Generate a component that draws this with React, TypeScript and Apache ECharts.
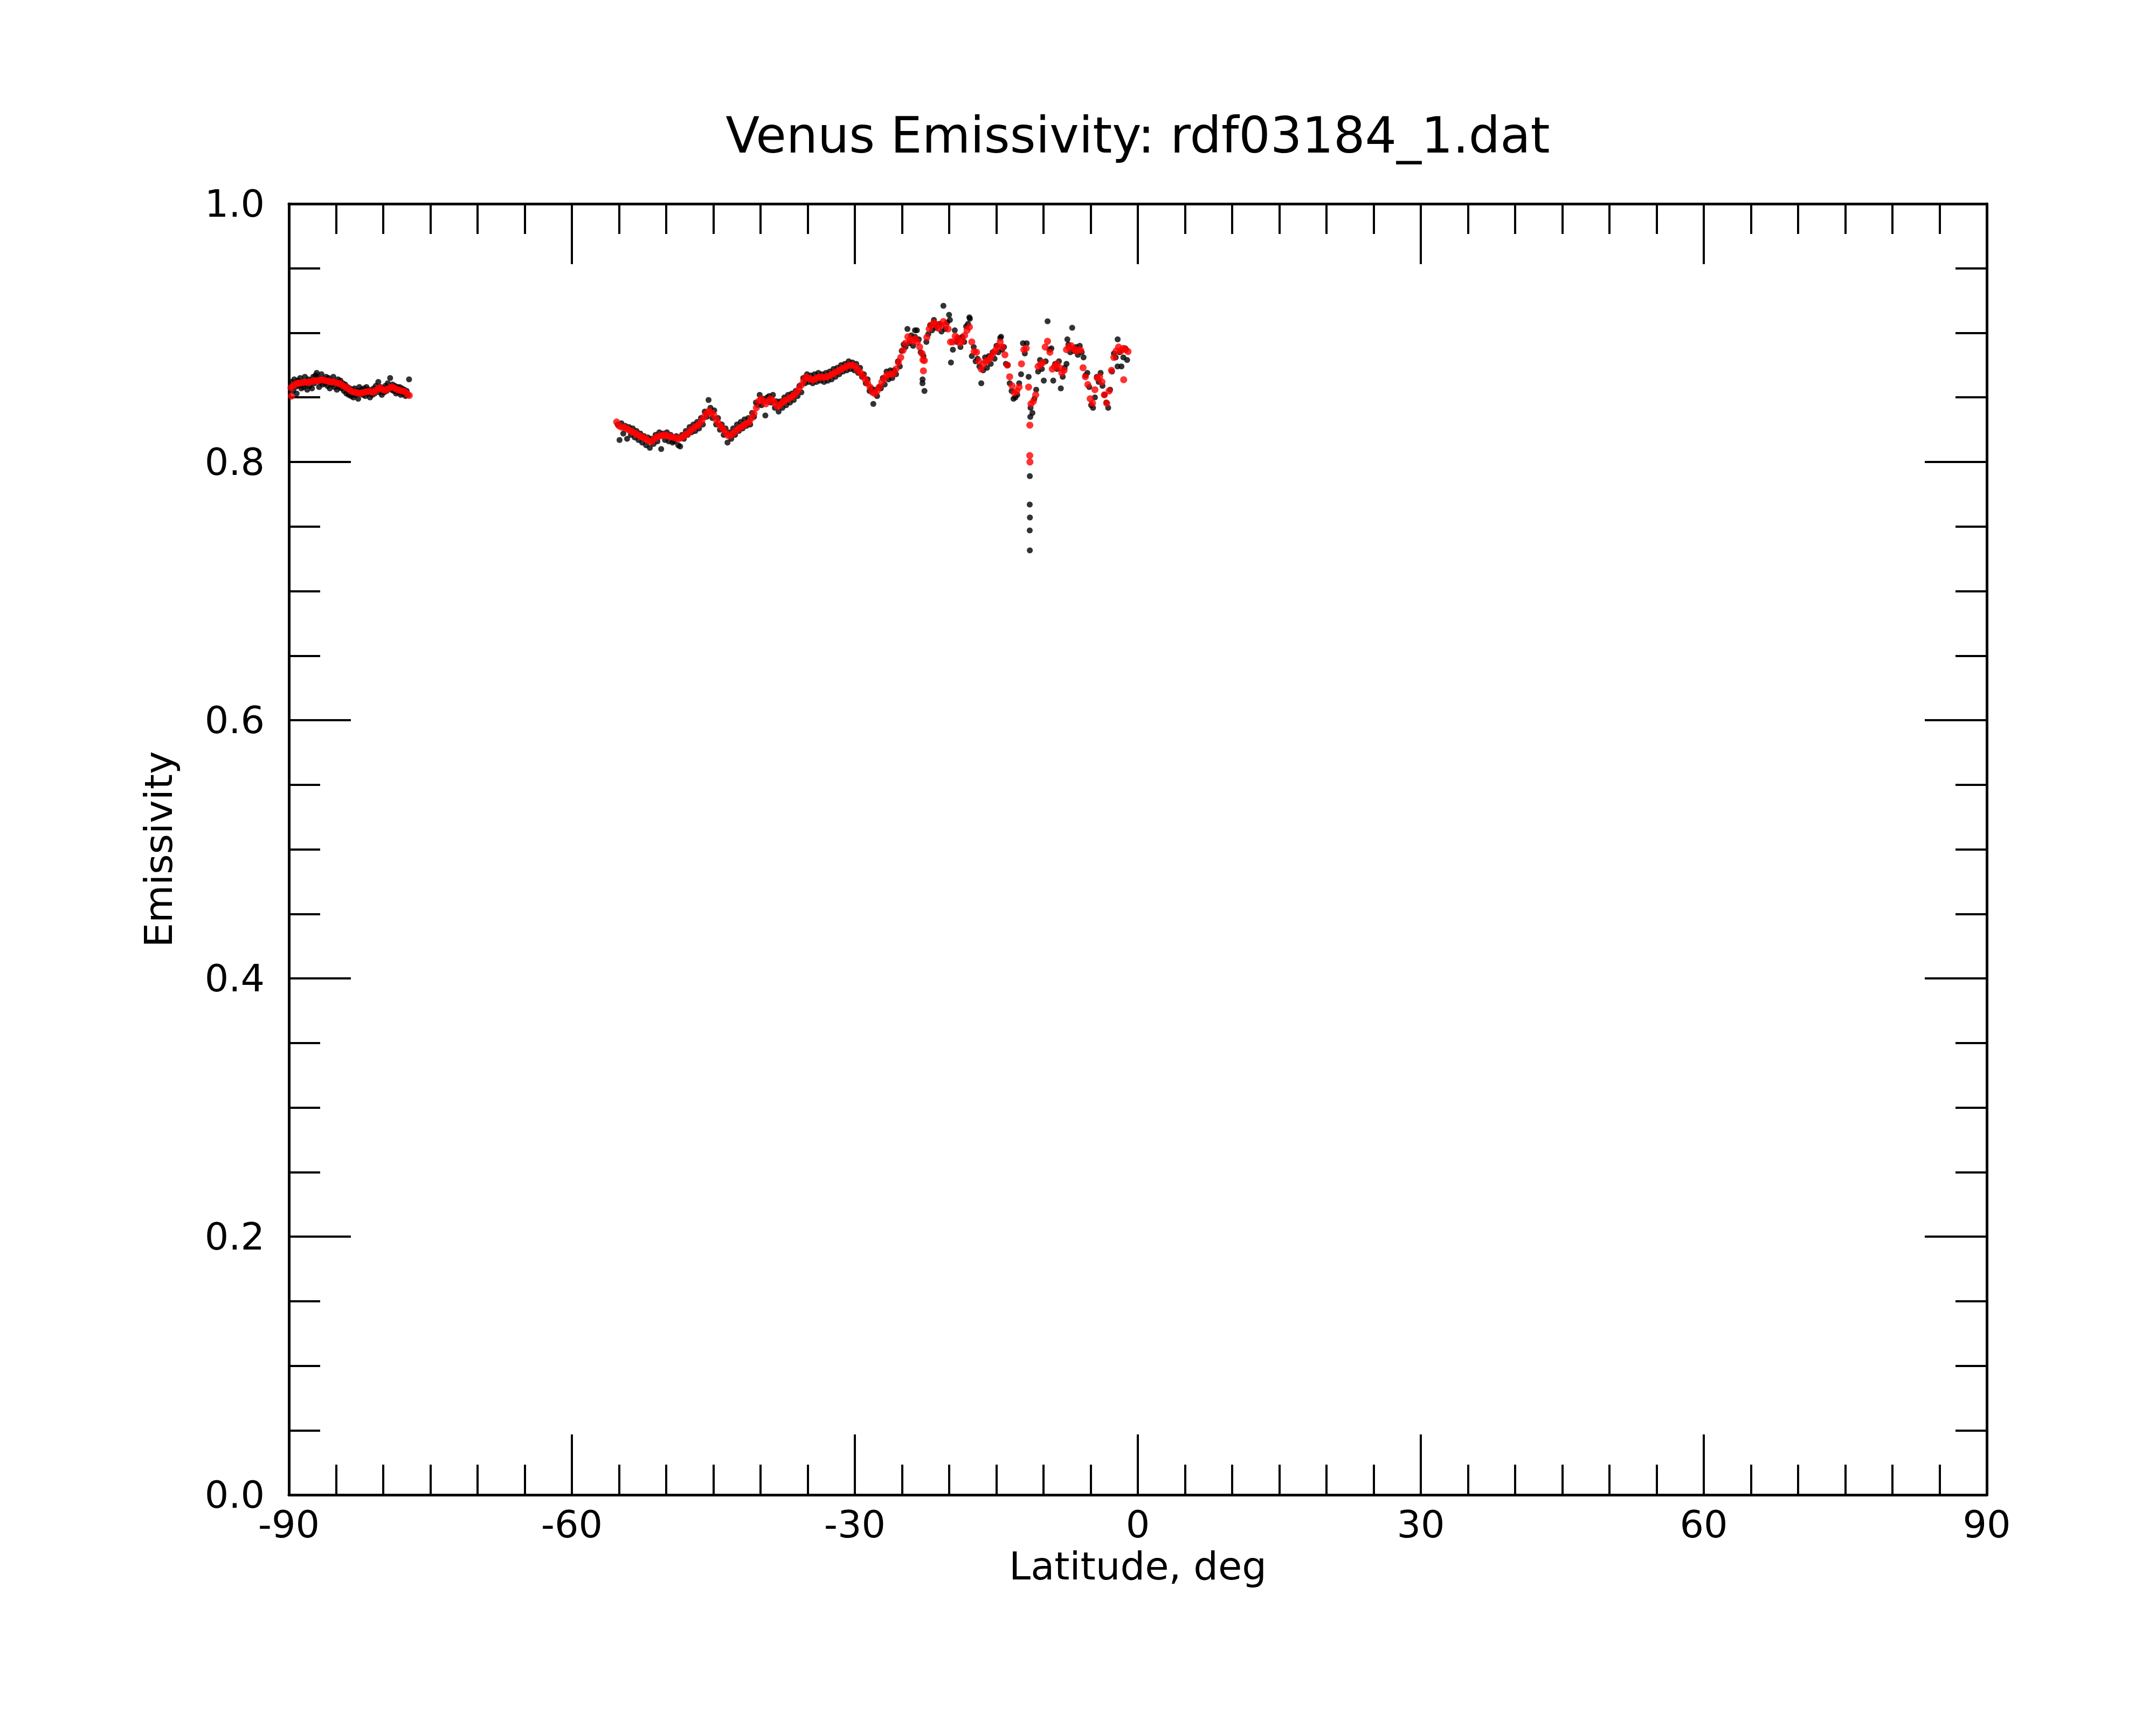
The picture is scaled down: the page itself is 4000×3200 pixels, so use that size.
import React, { useEffect, useRef } from "react";
import * as echarts from "echarts";

// ---------- data ----------
const titleText = "Venus Emissivity: rdf03184_1.dat";
const xAxisTitle = "Latitude, deg";
const yAxisTitle = "Emissivity";

// Southern polar strip, raw samples (black)
const seg1BlackStart = -89.685;
const seg1BlackStep = 0.1255;
const seg1Black = [
  0.862, 0.855, 0.864, 0.858, 0.853, 0.863, 0.859, 0.865, 0.857, 0.862,
  0.858, 0.866, 0.860, 0.856, 0.864, 0.859, 0.863, 0.857, 0.866, 0.861,
  0.867, 0.869, 0.865, 0.858, 0.862, 0.868, 0.860, 0.864, 0.861, 0.866,
  0.859, 0.865, 0.857, 0.863, 0.860, 0.866, 0.858, 0.862, 0.856, 0.864,
  0.858, 0.863, 0.857, 0.861, 0.855, 0.860, 0.853, 0.858, 0.852, 0.857,
  0.851, 0.856, 0.850, 0.857, 0.852, 0.855, 0.849, 0.858, 0.853, 0.856,
  0.852, 0.857, 0.851, 0.858, 0.853, 0.856, 0.850, 0.855, 0.852, 0.857,
  0.853, 0.859, 0.856, 0.862, 0.854, 0.858, 0.852, 0.857, 0.854, 0.859,
  0.855, 0.861, 0.857, 0.865, 0.856, 0.860, 0.855, 0.859, 0.853, 0.858,
  0.854, 0.858, 0.852, 0.857, 0.853, 0.856, 0.851, 0.855, 0.852, 0.864,
];

// Southern polar strip, smoothed (red)
const seg1RedStart = -89.785;
const seg1RedStep = 0.251;
const seg1Red = [
  0.8575, 0.859, 0.8605, 0.861, 0.8612, 0.8615, 0.862, 0.8615, 0.862, 0.8625,
  0.863, 0.8628, 0.8633, 0.8637, 0.8633, 0.8628, 0.8625, 0.8622, 0.862, 0.8615,
  0.861, 0.8605, 0.859, 0.858, 0.857, 0.8555, 0.8545, 0.854, 0.8535, 0.8533,
  0.8535, 0.854, 0.8545, 0.8547, 0.8543, 0.854, 0.8555, 0.8573, 0.857, 0.8558,
  0.8556, 0.8565, 0.8578, 0.858, 0.857, 0.856, 0.8555, 0.855, 0.8547, 0.853,
  0.8515,
];

// Main strip, raw samples (black)
const seg2BlackStart = -55.15;
const seg2BlackStep = 0.2008;
const seg2Black = [
  0.829, 0.817, 0.830, 0.822, 0.828, 0.818, 0.827, 0.821, 0.826, 0.819,
  0.824, 0.817, 0.822, 0.815, 0.820, 0.813, 0.819, 0.811, 0.818, 0.814,
  0.821, 0.816, 0.823, 0.810, 0.822, 0.817, 0.823, 0.816, 0.821, 0.815,
  0.816, 0.820, 0.813, 0.812, 0.821, 0.818, 0.824, 0.821, 0.827, 0.823,
  0.829, 0.824, 0.831, 0.826, 0.834, 0.829, 0.839, 0.835, 0.848, 0.842,
  0.834, 0.840, 0.829, 0.834, 0.825, 0.829, 0.821, 0.826, 0.815, 0.823,
  0.818, 0.826, 0.821, 0.829, 0.824, 0.831, 0.826, 0.833, 0.828, 0.834,
  0.829, 0.838, 0.835, 0.846, 0.844, 0.852, 0.844, 0.849, 0.836, 0.850,
  0.851, 0.846, 0.852, 0.842, 0.847, 0.839, 0.847, 0.842, 0.850, 0.844,
  0.852, 0.846, 0.853, 0.848, 0.855, 0.851, 0.859, 0.854, 0.865, 0.861,
  0.868, 0.862, 0.867, 0.861, 0.868, 0.862, 0.869, 0.863, 0.868, 0.862,
  0.869, 0.863, 0.870, 0.864, 0.872, 0.866, 0.873, 0.868, 0.875, 0.870,
  0.876, 0.871, 0.878, 0.872, 0.877, 0.871, 0.876, 0.869, 0.873, 0.866,
  0.868, 0.861, 0.864, 0.855, 0.857, 0.845, 0.856, 0.851, 0.858, 0.857,
  0.865, 0.860, 0.870, 0.864, 0.871, 0.865, 0.871, 0.868, 0.878, 0.874,
  0.886, 0.891, 0.889, 0.903, 0.892, 0.898, 0.890, 0.897, 0.902, 0.895,
  0.885, 0.864, 0.855, 0.893, 0.899, 0.906, 0.902, 0.910, 0.904, 0.906,
  0.907, 0.901, 0.921, 0.903, 0.908, 0.914, 0.877, 0.887, 0.902, 0.893,
  0.896, 0.889, 0.897, 0.893, 0.905, 0.907, 0.911, 0.882, 0.889, 0.878,
  0.880, 0.874, 0.861, 0.871, 0.881, 0.873, 0.882, 0.876, 0.885, 0.880,
  0.890, 0.885, 0.896, 0.887, 0.889, 0.876, 0.875, 0.861, 0.855, 0.849,
  0.850, 0.852, 0.861, 0.868, 0.892, 0.884, 0.892, 0.866, 0.842, 0.838,
  0.849, 0.856, 0.870, 0.879, 0.872, 0.863, 0.878, 0.909, 0.887, 0.888,
  0.863, 0.876, 0.872, 0.878, 0.857, 0.866, 0.873, 0.876, 0.891, 0.885,
  0.904, 0.886, 0.889, 0.883, 0.890, 0.885, 0.881, 0.867, 0.869, 0.858,
  0.844, 0.842, 0.850, 0.866, 0.862, 0.869, 0.859, 0.852, 0.846, 0.842,
  0.856, 0.870, 0.884, 0.881, 0.895, 0.885, 0.874, 0.881, 0.888, 0.879,
];

// Main strip, smoothed (red)
const seg2RedStart = -55.254;
const seg2RedStep = 0.251;
const seg2Red = [
  0.831, 0.828, 0.827, 0.827, 0.826, 0.825, 0.824, 0.823, 0.822, 0.821,
  0.820, 0.819, 0.8185, 0.817, 0.816, 0.816, 0.818, 0.8195, 0.820, 0.8205,
  0.821, 0.8205, 0.820, 0.8195, 0.819, 0.8185, 0.818, 0.8185, 0.8195, 0.821,
  0.822, 0.824, 0.8255, 0.827, 0.828, 0.8295, 0.832, 0.835, 0.8375, 0.8395,
  0.838, 0.8365, 0.833, 0.830, 0.8275, 0.8255, 0.823, 0.8205, 0.8205, 0.822,
  0.8235, 0.825, 0.8265, 0.8275, 0.829, 0.830, 0.831, 0.834, 0.8375, 0.842,
  0.847, 0.849, 0.847, 0.845, 0.847, 0.849, 0.8475, 0.845, 0.843, 0.8445,
  0.846, 0.8475, 0.8485, 0.8495, 0.8505, 0.852, 0.854, 0.8565, 0.8595, 0.863,
  0.866, 0.865, 0.864, 0.8635, 0.8645, 0.8655, 0.866, 0.8655, 0.8658, 0.866,
  0.867, 0.868, 0.869, 0.870, 0.871, 0.872, 0.873, 0.874, 0.8748, 0.875,
  0.8748, 0.8735, 0.871, 0.869, 0.8665, 0.864, 0.861, 0.858, 0.854, 0.853,
  0.855, 0.858, 0.862, 0.8645, 0.867, 0.868, 0.868, 0.8685, 0.872, 0.877,
  0.881, 0.8865, 0.892, 0.897, 0.8945, 0.8935, 0.8955, 0.893, 0.889, 0.884,
  0.8785, 0.8965, 0.903, 0.906, 0.908, 0.9065, 0.9035, 0.906, 0.9088, 0.906,
  0.903, 0.893, 0.893, 0.8975, 0.896, 0.892, 0.894, 0.898, 0.902, 0.9045,
  0.893, 0.8855, 0.885, 0.878, 0.872, 0.876, 0.878, 0.879, 0.881, 0.884,
  0.8865, 0.889, 0.893, 0.889, 0.883, 0.875, 0.866, 0.859, 0.8535, 0.855,
  0.858, 0.876, 0.887, 0.888, 0.858, 0.845, 0.847, 0.852, 0.874, 0.8755,
  0.877, 0.889, 0.8935, 0.885, 0.872, 0.874, 0.876, 0.873, 0.869, 0.871,
  0.887, 0.889, 0.890, 0.8875, 0.886, 0.887, 0.8865, 0.873, 0.866, 0.860,
  0.849, 0.8455, 0.856, 0.865, 0.866, 0.862, 0.852, 0.8455, 0.855, 0.871,
  0.881, 0.886, 0.889, 0.886, 0.888, 0.887, 0.8855,
];

// isolated samples (latitude, emissivity)
const blackExtra = [
  [-11.4, 0.835], [-11.45, 0.789], [-11.46, 0.767], [-11.44, 0.757],
  [-11.46, 0.747], [-11.45, 0.7315], [-22.73, 0.882], [-22.83, 0.861],
  [-19.92, 0.91], [-17.86, 0.912], [-14.5, 0.897], [-23.63, 0.902],
  [-7.47, 0.895], [-2.15, 0.874],
];
const redExtra = [
  [-89.73, 0.851], [-22.73, 0.8706], [-22.78, 0.879], [-11.45, 0.8285],
  [-11.46, 0.805], [-11.44, 0.8], [-1.5, 0.8637],
];

const xMin = -90;
const xMax = 90;
const xInterval = 30;
const yMin = 0;
const yMax = 1;
const yInterval = 0.2;

const toPairs = (start: number, step: number, values: number[]) =>
  values.map((v, i) => [Number((start + i * step).toFixed(4)), v]);

const FONT = "DejaVu Sans";

export default function App() {
  const ref = useRef<HTMLDivElement | null>(null);

  useEffect(() => {
    if (!ref.current) return;
    const chart = echarts.init(ref.current, undefined, { renderer: "svg" });

    const blackData = [
      ...toPairs(seg1BlackStart, seg1BlackStep, seg1Black),
      ...toPairs(seg2BlackStart, seg2BlackStep, seg2Black),
      ...blackExtra,
    ];
    const redData = [
      ...toPairs(seg1RedStart, seg1RedStep, seg1Red),
      ...toPairs(seg2RedStart, seg2RedStep, seg2Red),
      ...redExtra,
    ];

    const tickLine = { color: "#000", width: 4 };
    const axisLine = { show: true, onZero: false, lineStyle: { color: "#000", width: 5 } };

    const xCommon = {
      type: "value" as const,
      min: xMin,
      max: xMax,
      interval: xInterval,
      axisLine,
      axisTick: { show: true, inside: true, length: 112, lineStyle: tickLine },
      minorTick: { show: true, splitNumber: 6, length: 56, lineStyle: tickLine },
      splitLine: { show: false },
      minorSplitLine: { show: false },
    };
    const yCommon = {
      type: "value" as const,
      min: yMin,
      max: yMax,
      interval: yInterval,
      axisLine,
      axisTick: { show: true, inside: true, length: 115, lineStyle: tickLine },
      minorTick: { show: true, splitNumber: 4, length: 58, lineStyle: tickLine },
      splitLine: { show: false },
      minorSplitLine: { show: false },
    };

    chart.setOption({
      animation: false,
      backgroundColor: "#ffffff",
      grid: { left: 536, right: 314, top: 378, bottom: 427, containLabel: false },
      graphic: [
        {
          type: "text",
          x: 2111,
          y: 251,
          style: {
            text: titleText,
            fontFamily: FONT,
            fontSize: 92,
            fill: "#000",
            textAlign: "center",
            textVerticalAlign: "middle",
          },
        },
      ],
      xAxis: [
        {
          ...xCommon,
          position: "bottom",
          name: xAxisTitle,
          nameLocation: "middle",
          nameGap: 96,
          nameTextStyle: { fontFamily: FONT, fontSize: 72, color: "#000" },
          axisLabel: {
            show: true,
            margin: 20,
            fontFamily: FONT,
            fontSize: 70,
            color: "#000",
          },
        },
        {
          ...xCommon,
          position: "top",
          axisLabel: { show: false },
        },
      ],
      yAxis: [
        {
          ...yCommon,
          position: "left",
          name: yAxisTitle,
          nameLocation: "middle",
          nameGap: 206,
          nameTextStyle: { fontFamily: FONT, fontSize: 72, color: "#000" },
          axisLabel: {
            show: true,
            margin: 45,
            fontFamily: FONT,
            fontSize: 70,
            color: "#000",
            formatter: (v: number) => v.toFixed(1),
          },
        },
        {
          ...yCommon,
          position: "right",
          axisLabel: { show: false },
        },
      ],
      series: [
        {
          type: "scatter",
          name: "raw",
          xAxisIndex: 0,
          yAxisIndex: 0,
          data: blackData,
          symbol: "circle",
          symbolSize: 11,
          itemStyle: { color: "#000000" },
          silent: true,
        },
        {
          type: "scatter",
          name: "smoothed",
          xAxisIndex: 0,
          yAxisIndex: 0,
          data: redData,
          symbol: "circle",
          symbolSize: 13,
          itemStyle: { color: "#ff0000" },
          silent: true,
        },
      ],
    });

    return () => {
      chart.dispose();
    };
  }, []);

  return (
    <div
      ref={ref}
      style={{ position: "absolute", left: 0, top: 0, width: 4000, height: 3200, background: "#fff" }}
    />
  );
}
